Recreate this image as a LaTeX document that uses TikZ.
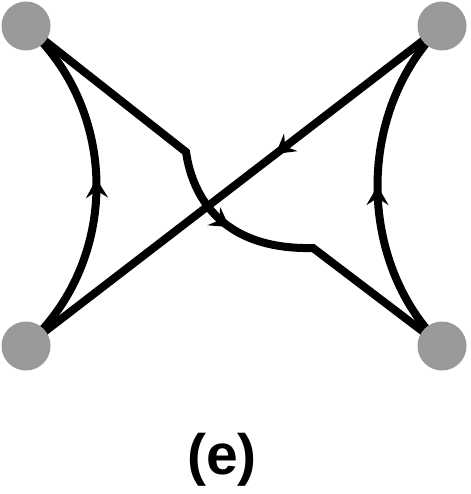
\documentclass[tikz,border=0pt]{standalone}
\usepackage{fontspec}
\setmainfont{Liberation Sans}
\usetikzlibrary{arrows.meta,decorations.markings}

\begin{document}
\begin{tikzpicture}[x=1pt,y=-1pt,line width=8pt,line join=miter,
  dot/.style={circle,fill=black!40,inner sep=0pt,minimum size=49pt},
  mid arrow/.style={postaction={decorate,decoration={markings,
    mark=at position #1 with {\arrow{Stealth[length=19pt,width=22pt,inset=7pt]}}}}}]
\useasboundingbox (0,0) rectangle (470,494);

\coordinate (a) at (26,26);
\coordinate (b) at (442,26);
\coordinate (c) at (26,346);
\coordinate (d) at (442,346);
\coordinate (k1) at (186,152);
\coordinate (k2) at (313,248);

% side arcs, going up
\draw[mid arrow=0.52] (c) .. controls (120,262) and (120,110) .. (a);
\draw[mid arrow=0.5] (d) .. controls (356,262) and (356,110) .. (b);

% long diagonal
\draw[mid arrow=0.4] (b) -- (c);

% broken path with the bend in the middle
\draw[mid arrow=0.54] (a) -- (k1) .. controls (193,200) and (225,250) .. (k2) -- (d);

\node[dot] (A) at (a) {};
\node[dot] (B) at (b) {};
\node[dot] (C) at (c) {};
\node[dot] (D) at (d) {};

\node[anchor=base,font=\bfseries\fontsize{57}{60}\selectfont] (lbl) at (222,474) {(e)};
\end{tikzpicture}
\end{document}
